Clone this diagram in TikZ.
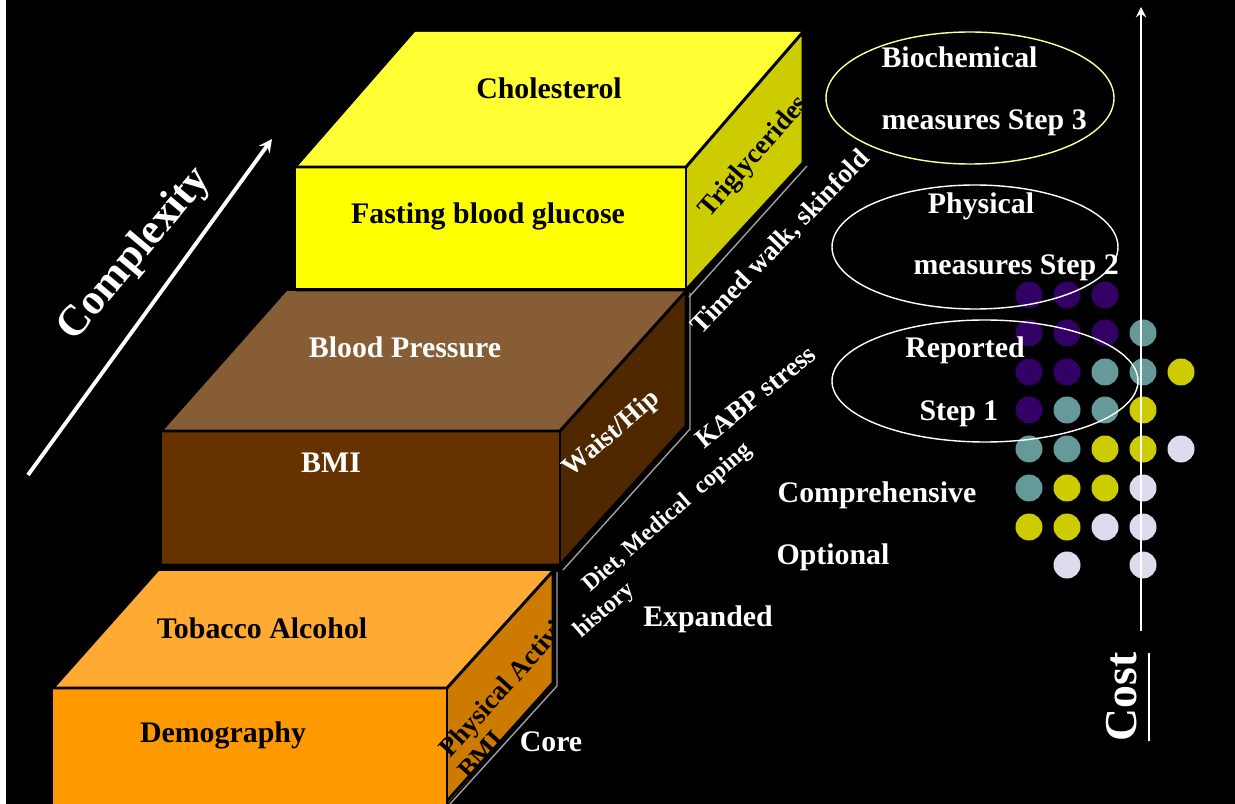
\documentclass[tikz,border=0pt]{standalone}
\usepackage{xcolor}
\usepackage{fontspec}
\setmainfont{Liberation Serif}
\usepackage{tikz}
\usetikzlibrary{shapes, arrows, positioning}

\definecolor{coreFront}{HTML}{FF9900}
\definecolor{coreTop}{HTML}{FFAA33}
\definecolor{coreSide}{HTML}{CC7A00}
\definecolor{expFront}{HTML}{663300}
\definecolor{expTop}{HTML}{865D35}
\definecolor{expSide}{HTML}{4F2800}
\definecolor{compFront}{HTML}{FFFF00}
\definecolor{compTop}{HTML}{FFFF33}
\definecolor{compSide}{HTML}{CCCC00}
\definecolor{dotPurple}{HTML}{330066}
\definecolor{dotTeal}{HTML}{669999}
\definecolor{dotYellow}{HTML}{CCCC00}
\definecolor{dotLilac}{HTML}{DCDCEE}
\definecolor{ringYellow}{HTML}{FFFF99}

\newcommand{\costunder}[1]{\setbox0\hbox{#1}\rlap{\raisebox{-0.3em}{\rule{\wd0}{1.4pt}}}\box0}

\begin{document}
\begin{tikzpicture}[x=0.02cm, y=-0.02cm, >=stealth, semithick]
		\tikzstyle{edge}=[draw=black, line width=1.7pt, line join=round]
		\tikzstyle{shade}=[draw=gray!75, line width=0.8pt]
		\tikzstyle{label}=[font=\fontsize{17}{20}\selectfont\bfseries, inner sep=0pt, text height=1.08em, text depth=0pt]
		\tikzstyle{tilted}=[label, font=\fontsize{15.4}{18}\selectfont\bfseries]
		\tikzstyle{note}=[label, text=white]
		\tikzstyle{ring}=[line width=0.8pt]

		\useasboundingbox (0,0) rectangle (1235,804);
		\fill[white] (0,0) rectangle (6,804);
		\fill[black] (6,0) rectangle (1235,804);

		% core box
		\fill[coreFront] (53,688) rectangle (447,804);
		\fill[coreTop] (55,688) -- (159,571) -- (553,571) -- (447,688) -- cycle;
		\fill[coreSide] (447,688) -- (553,571) -- (553,683) -- (447,804) -- cycle;
		\draw[shade] (557,572) -- (557,686) -- (450,804);
		\draw[edge] (53,688) -- (447,688) -- (553,571) -- (553,683) -- (447,801);
		\draw[edge] (447,688) -- (447,804);
		\begin{scope}
			\clip (400,560) -- (553,560) -- (553,683) -- (447,804) -- (400,804) -- cycle;
			\node[tilted, rotate=48, anchor=base west] (physact) at (450,759) {Physical Activity};
			\node[tilted, rotate=48, anchor=base west] (physbmi) at (469,781) {BMI};
		\end{scope}

		% expanded box
		\fill[expFront] (162,431) rectangle (560,565);
		\fill[expTop] (163,431) -- (287,291) -- (686,291) -- (560,431) -- cycle;
		\fill[expSide] (560,431) -- (686,291) -- (686,426) -- (560,565) -- cycle;
		\draw[shade] (690,293) -- (690,429) -- (563,570);
		\draw[edge] (162,431) -- (560,431) -- (686,291) -- (686,426) -- (560,565) -- (162,565);
		\draw[edge] (560,431) -- (560,565);

		% comprehensive box
		\fill[compFront] (296,167) rectangle (686,288);
		\fill[compTop] (298,166) -- (415,32) -- (803,32) -- (686,166) -- cycle;
		\fill[compSide] (686,166) -- (803,32) -- (803,163) -- (686,290) -- cycle;
		\draw[shade] (807,166) -- (689,297);
		\draw[edge] (296,167) -- (686,167) -- (803,32) -- (803,163) -- (686,290) -- (296,290);
		\draw[edge] (686,167) -- (686,290);

		% box texts
		\node[label] (cholesterol) at (549,89) {Cholesterol};
		\node[label] (glucose) at (488,214) {Fasting blood glucose};
		\node[tilted, rotate=49] (triglyc) at (752,155) {Triglycerides};
		\node[note] (bloodpress) at (405,348) {Blood Pressure};
		\node[note] (bmi) at (331,463) {BMI};
		\node[tilted, text=white, rotate=41] (waisthip) at (610,432) {Waist/Hip};
		\node[label] (tobacco) at (262,629) {Tobacco Alcohol};
		\node[label] (demography) at (223,733) {Demography};

		% texts along the steps
		\node[tilted, text=white, rotate=46] (timedwalk) at (779,241) {Timed walk, skinfold};
		\node[tilted, text=white, rotate=39] (kabp) at (755,396) {KABP stress};
		\node[tilted, text=white, rotate=41, font=\fontsize{13.5}{16}\selectfont\bfseries] (diet) at (665,515) {Diet, Medical\enspace coping};
		\node[tilted, text=white, rotate=41, font=\fontsize{13.5}{16}\selectfont\bfseries] (history) at (602,608) {history};
		\node[note] (core) at (551,742) {Core};
		\node[note] (expanded) at (708,617) {Expanded};
		\node[note] (comprehensive) at (877,493) {Comprehensive};
		\node[note] (optional) at (833,555) {Optional};

		% complexity arrow
		\coordinate (cxlow) at (28,475);
		\coordinate (cxhigh) at (272,139);
		\draw[->, white, line width=2.2pt] (cxlow) -- (cxhigh);
		\node[note, rotate=50, font=\fontsize{24.5}{28}\selectfont\bfseries] (complexity) at (136,255) {Complexity};

		% dots
		\foreach \x/\y in {1029/295, 1067/295, 1105/295, 1029/333, 1067/333, 1105/333, 1029/372, 1067/372, 1029/410}
			\fill[dotPurple] (\x,\y) circle (13.5);
		\foreach \x/\y in {1143/333, 1105/372, 1143/372, 1067/410, 1105/410, 1029/449, 1067/449, 1029/488}
			\fill[dotTeal] (\x,\y) circle (13.5);
		\foreach \x/\y in {1181/372, 1143/410, 1105/449, 1143/449, 1067/488, 1105/488, 1029/527, 1067/527}
			\fill[dotYellow] (\x,\y) circle (13.5);
		\foreach \x/\y in {1181/449, 1143/488, 1105/527, 1143/527, 1067/565, 1143/565}
			\fill[dotLilac] (\x,\y) circle (13.5);

		% cost arrow
		\coordinate (costlow) at (1141,631);
		\coordinate (costhigh) at (1141,7);
		\draw[->, white, line width=1.6pt] (costlow) -- (costhigh);
		\node[note, rotate=90, font=\fontsize{26}{30}\selectfont\bfseries] (cost) at (1127,697) {\costunder{Cost}};

		% steps
		\draw[ring, ringYellow] (970,98) ellipse [x radius=144, y radius=66];
		\draw[ring, white] (975,247) ellipse [x radius=143, y radius=62];
		\draw[ring, white] (985,381) ellipse [x radius=153, y radius=61];
		\node[note, anchor=west] (biochem) at (881,58) {Biochemical};
		\node[note, anchor=west] (biochemstep) at (881,120) {measures Step 3};
		\node[note] (physical) at (981,204) {Physical};
		\node[note, anchor=west] (physicalstep) at (913,265) {measures Step 2};
		\node[note] (reported) at (965,348) {Reported};
		\node[note] (reportedstep) at (959,411) {Step 1};
\end{tikzpicture}
\end{document}
